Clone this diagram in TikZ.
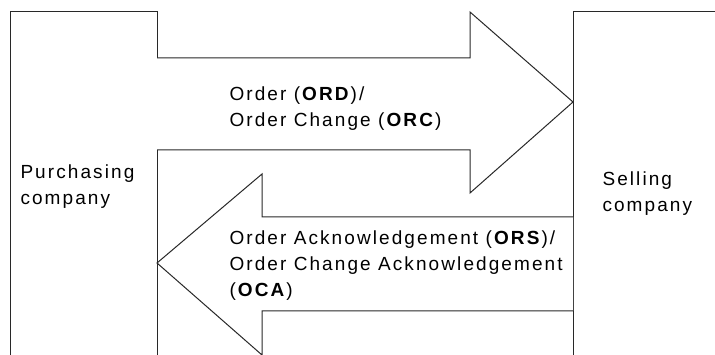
\documentclass[tikz,border=0pt]{standalone}
\usepackage{fontspec}
\setmainfont{Liberation Sans}[LetterSpace=11]
\usepackage{tikz}
\definecolor{line_gray}{RGB}{40,40,40}

\begin{document}
\begin{tikzpicture}[x=1pt,y=-1pt,line width=1pt,line join=miter]
    \tikzstyle{party}=[draw=line_gray]
    \tikzstyle{flow}=[draw=line_gray,fill=white]
    \tikzstyle{label}=[anchor=base west,inner sep=0pt,align=left,text=black,
                       font=\fontsize{19}{26}\selectfont]
    \useasboundingbox (0,0) rectangle (715,355);

    % tips of the two arrows
    \coordinate (ordTip) at (573,102);
    \coordinate (ackTip) at (157,263);

    % the two companies
    \path[party] (10,360) -- (10,12) -- (157,12) -- (157,360);
    \path[party] (573,360) -- (573,12) -- (720,12);

    % order arrow, left to right
    \path[flow] (157,58) -- (470,58) -- (470,12) -- (ordTip)
                -- (470,193) -- (470,150) -- (157,150);
    % acknowledgement arrow, right to left
    \path[flow] (573,217) -- (262,217) -- (262,174) -- (ackTip)
                -- (262,355) -- (262,311) -- (573,311);

    % base is the last line
    \node[label] (buyer)  at (20,205)  {Purchasing\\company};
    \node[label] (seller) at (602,212) {Selling\\company};
    \node[label] (ord)    at (229,127) {Order (\textbf{ORD})/\\Order Change (\textbf{ORC})};
    \node[label] (ack)    at (229,297) {Order Acknowledgement (\textbf{ORS})/\\
                                        Order Change Acknowledgement\\(\textbf{OCA})};
\end{tikzpicture}
\end{document}
